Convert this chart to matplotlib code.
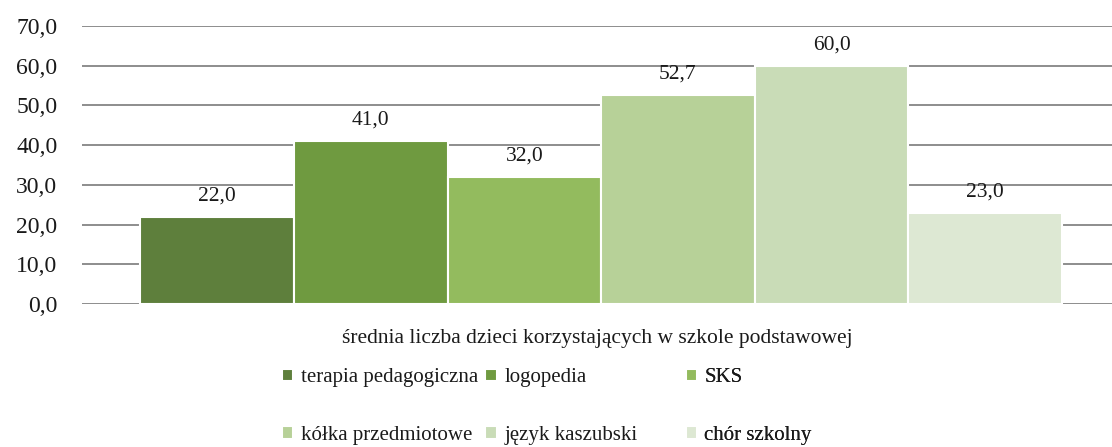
import matplotlib

matplotlib.use("Agg")
import matplotlib.pyplot as plt
import numpy as np

categories = ["terapia pedagogiczna", "logopedia", "SKS",
              "kółka przedmiotowe", "język kaszubski", "chór szkolny"]
values = [22.0, 41.0, 32.0, 52.7, 60.0, 23.0]
colors = ["#5e7f3c", "#6f9a40", "#93bb5e", "#b7d198", "#c9dcb7", "#dde8d3"]
group_label = "średnia liczba dzieci korzystających w szkole podstawowej"
yticks = np.arange(0, 71, 10)

plt.rcParams["font.family"] = ["Liberation Serif", "DejaVu Serif"]
ink = "#1a1a1a"

fig = plt.figure(figsize=(11.12, 4.47), dpi=100)
ax = fig.add_axes([0.074, 0.32, 0.926, 0.622])

n = len(values)
w = 1.0 / n
xpos = (np.arange(n) - (n - 1) / 2) * w
bars = ax.bar(xpos, values, w, color=colors, edgecolor="white", lw=1.5,
              zorder=3)
for x, v in zip(xpos, values):
    ax.text(x, v + 2.8, f"{v:.1f}".replace(".", ","), ha="center",
            va="bottom", fontsize=15.5, color=ink, zorder=4)

ax.set_xlim(-0.5629, 0.5542)
ax.set_ylim(0, 70)
ax.set_yticks(yticks, [f"{t:.1f}".replace(".", ",") for t in yticks],
              fontsize=17)
ax.tick_params(axis="y", length=0, pad=18, colors=ink)
ax.yaxis.grid(True, color="#858585", lw=1.3, zorder=0)
ax.set_xticks([])
for s in ax.spines.values():
    s.set_visible(False)
ax.set_xlabel(group_label, fontsize=15.5, color=ink, labelpad=18)

# legend laid out in three columns, two rows, like the original
col_x = [0.2535, 0.4365, 0.6165]
for j in range(3):
    idx = [j, j + 3]
    ax.legend([bars[i] for i in idx], [categories[i] for i in idx],
              loc="upper left", bbox_to_anchor=(col_x[j], 0.176),
              bbox_transform=fig.transFigure, frameon=False, fontsize=15,
              handlelength=0.55, handleheight=0.55, handletextpad=0.35,
              labelspacing=1.85, borderaxespad=0, borderpad=0,
              labelcolor=ink)
    ax.add_artist(ax.get_legend())

fig.savefig("out.png", dpi=100)
